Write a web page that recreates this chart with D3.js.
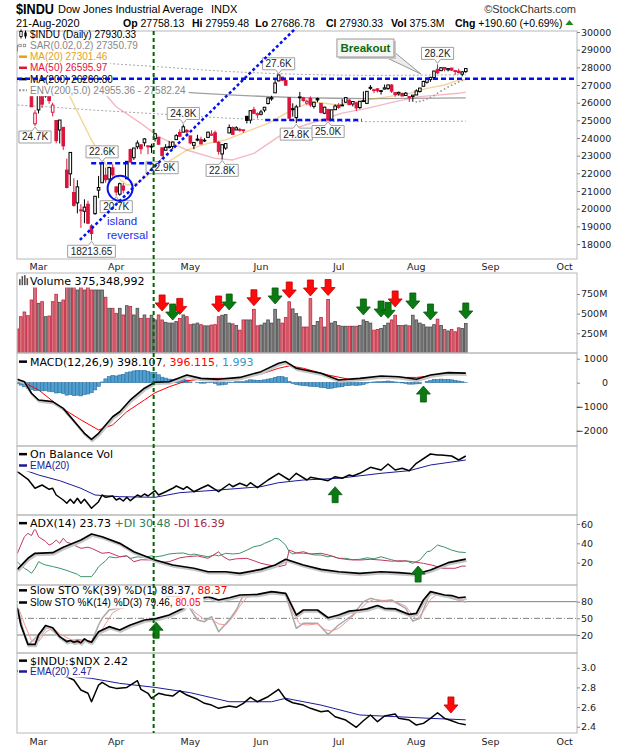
<!DOCTYPE html>
<html>
<head>
<meta charset="utf-8">
<style>
  body { margin: 0; background: #fff; }
  svg { display: block; }
</style>
</head>
<body>
<svg></svg>
<script src="https://d3js.org/d3.v7.min.js"></script>
<script>
// ---------- data: $INDU daily bars, 21-Feb-2020 .. 21-Aug-2020 ----------
const days = ("02-21 02-24 02-25 02-26 02-27 02-28 03-02 03-03 03-04 03-05 03-06 03-09 03-10 03-11 03-12 03-13 " +
  "03-16 03-17 03-18 03-19 03-20 03-23 03-24 03-25 03-26 03-27 03-30 03-31 04-01 04-02 04-03 04-06 04-07 04-08 04-09 " +
  "04-13 04-14 04-15 04-16 04-17 04-20 04-21 04-22 04-23 04-24 04-27 04-28 04-29 04-30 05-01 05-04 05-05 05-06 05-07 05-08 " +
  "05-11 05-12 05-13 05-14 05-15 05-18 05-19 05-20 05-21 05-22 05-26 05-27 05-28 05-29 06-01 06-02 06-03 06-04 06-05 " +
  "06-08 06-09 06-10 06-11 06-12 06-15 06-16 06-17 06-18 06-19 06-22 06-23 06-24 06-25 06-26 06-29 06-30 07-01 07-02 " +
  "07-06 07-07 07-08 07-09 07-10 07-13 07-14 07-15 07-16 07-17 07-20 07-21 07-22 07-23 07-24 07-27 07-28 07-29 07-30 07-31 " +
  "08-03 08-04 08-05 08-06 08-07 08-10 08-11 08-12 08-13 08-14 08-17 08-18 08-19 08-20 08-21").split(" ");
const prevClose = 29219; // 20-Feb close

const open = [29217,28403,28023,27197,26526,24806,25591,26762,26383,26671,25458,24992,24454,24604,22184,21973,20917,20328,19931,19854,
  20253,19028,19722,21050,21468,21898,21678,22314,21228,20819,21285,21693,23344,22885,23504,23619,23732,23558,23526,23967,
  24036,23443,23309,23463,23522,23909,24310,24332,24433,24120,23585,23938,23913,23846,24034,24153,24297,23750,23098,23430,
  24289,24593,24456,24485,24438,25229,25012,25603,25314,25343,25580,25951,26218,26557,27233,27447,27251,26283,25659,25156,
  26326,26270,25976,26245,25789,26235,25960,25401,25622,25063,25602,25856,25866,26026,26143,25924,25994,25726,26108,25960,
  26811,26716,26786,26662,26767,26807,26997,26570,26496,26519,26407,26345,26353,26434,26634,26928,27156,27308,27426,27886,
  27812,27993,27861,27960,27813,27784,27615,27758];
const high = [29240,28403,28068,27390,26555,25575,26706,27084,27102,26671,25995,24992,25020,24604,22837,23186,21720,21613,20255,20531,
  20453,19121,20704,21854,22595,22327,22378,22519,21288,21477,21447,22701,23400,23444,23865,23619,23996,23558,23677,24264,
  24036,23443,23651,23838,23796,24224,24487,24765,24514,24120,23767,24181,24073,23994,24353,24436,24418,23826,23625,23710,
  24771,24657,24667,24576,24480,25233,25557,25766,25448,25598,25757,26305,26392,27338,27580,27447,27355,26283,25966,25878,
  26611,26326,26171,26352,26044,26287,25960,25772,25622,25599,25905,25978,26205,26302,26204,26094,26005,26086,26637,26657,
  26996,26785,26809,26720,27025,27005,27055,26570,26625,26574,26609,26350,26437,26757,26827,27239,27397,27462,27800,28168,
  28022,28016,27950,27960,27847,27920,27798,27959];
const low = [28892,27922,27057,26918,25763,24681,25391,25706,26286,25943,25226,23706,23690,23328,21154,21285,20116,19735,18917,19177,
  19122,18214,19650,20599,21468,21469,21522,21813,20735,20736,20863,21693,22595,22761,23371,23090,23535,23075,23155,23798,
  23617,22941,23309,23413,23361,23909,24058,24332,24242,23645,23361,23815,23651,23770,24026,24124,23762,23062,22790,23327,
  24289,24197,24456,24360,24289,24825,24823,25353,25114,25278,25461,25901,26108,26557,27210,27216,26983,25082,25208,24843,
  25752,26062,25856,25764,25672,26029,25395,25350,24990,25010,25602,25652,25807,25996,25885,25787,25524,25637,26054,25920,
  26725,26539,26576,26458,26760,26725,26555,26338,26398,26361,26394,26042,26050,26434,26571,26928,27080,27180,27354,27634,
  27812,27776,27771,27788,27572,27667,27495,27687];
const close = [28992,27961,27081,26957,25766,25409,26703,25917,27091,26121,25864,23851,25018,23553,21200,23185,20189,21237,19899,20087,
  19174,18592,20704,21200,22552,21637,22327,21917,20943,21413,21053,22680,22654,23434,23719,23390,23950,23505,23538,24242,
  23650,23019,23475,23515,23775,24134,24101,24634,24346,23724,23750,23883,23664,23876,24331,24221,23765,23248,23625,23685,
  24597,24207,24576,24474,24465,24995,25548,25400,25383,25475,25742,26270,26282,27111,27572,27272,26990,25128,25606,25763,
  26290,26120,26080,25871,26025,26156,25446,25745,25016,25595,25813,25735,25827,26287,25890,26067,25706,26075,26086,26643,
  26870,26735,26672,26681,26840,27006,26653,26470,26584,26379,26540,26314,26428,26664,26828,27202,27387,27433,27791,27687,
  27977,27897,27931,27845,27779,27693,27740,27930];
// volume, millions of shares
const volume = [305,461,521,474,673,860,631,652,461,470,652,746,644,673,860,860,860,800,860,800,
  860,800,800,800,800,708,568,568,504,568,483,601,590,483,568,440,483,440,480,420,
  483,420,390,380,380,400,440,483,461,360,368,380,360,345,345,355,360,461,480,490,
  380,370,350,290,420,420,420,555,345,355,380,420,380,555,430,380,450,650,560,500,
  460,330,330,690,350,400,450,330,680,380,400,350,340,340,340,340,340,350,420,400,
  380,290,300,310,350,380,420,480,350,350,355,345,480,420,380,360,330,330,360,430,
  350,300,280,300,270,320,310,375];

// price overlays: [day index, value]
const ma20 = [[0,29250],[5,28300],[10,27400],[14,26700],[21,23890],[26,22190],[31,21340],[34,21440],[39,22190],[48,23320],
  [54,23700],[59,23890],[65,24360],[71,24830],[76,25400],[83,26060],[91,25870],[99,26150],[105,26340],[111,26530],
  [116,26810],[121,27000],[125,27280],[127,27301]];
const ma50 = [[0,28950],[10,28500],[17,27700],[24,26700],[28,25770],[35,24830],[40,24080],[48,23320],[56,22850],[61,22760],
  [67,23130],[74,24080],[80,24640],[86,25020],[92,25410],[99,25680],[107,26060],[114,26340],[125,26530],[127,26596]];
const ma200 = [[0,27230],[10,27100],[20,26950],[30,26820],[40,26700],[50,26560],[60,26440],[70,26350],[80,26290],[90,26250],
  [100,26235],[110,26240],[120,26255],[127,26267]];
const envUpper = [[0,28592],[10,28455],[20,28298],[30,28161],[40,28035],[50,27888],[60,27762],[70,27668],[80,27605],[90,27563],
  [100,27547],[110,27552],[120,27568],[127,27582]];
const envLower = [[0,25869],[10,25745],[20,25603],[30,25479],[40,25365],[50,25232],[60,25118],[70,25033],[80,24976],[90,24938],
  [100,24923],[110,24928],[120,24942],[127,24955]];
const sar = [[113,26042],[114,26080],[115,26130],[116,26210],[117,26300],[118,26400],[119,26540],[120,26660],[121,26780],
  [122,26890],[123,26990],[124,27080],[125,27170],[126,27260],[127,27351]];

// MACD(12,26,9)
const macd = [[0,140],[2,40],[4,-440],[6,-720],[10,-790],[13,-1070],[17,-1760],[19,-2110],[21,-2360],[23,-2110],[27,-1420],
  [29,-1210],[32,-720],[36,-230],[39,20],[43,40],[48,320],[52,180],[57,140],[63,220],[69,460],[74,810],[76,880],[79,600],
  [86,390],[91,110],[97,180],[103,280],[108,250],[113,140],[117,320],[122,420],[127,398]];
const macdSignal = [[0,140],[6,-300],[12,-1000],[18,-1550],[23,-1970],[27,-1760],[31,-1210],[36,-720],[39,-420],[43,-170],
  [48,80],[54,180],[63,180],[69,360],[74,600],[77,700],[81,600],[88,320],[94,140],[103,220],[113,220],[120,320],[127,396]];
const macdHist = [-40,-100,-170,-230,-290,-330,-320,-340,-330,-360,-380,-430,-420,-450,-520,-500,-540,-520,-550,-500,
  -470,-420,-300,-150,30,160,250,300,280,320,350,420,450,490,510,500,510,470,430,420,
  330,230,190,150,140,150,130,150,110,30,0,10,-20,-20,10,10,-30,-100,-90,-70,
  20,20,40,40,40,80,120,110,100,100,120,150,170,220,260,250,210,50,-30,-80,
  -100,-120,-130,-150,-160,-170,-200,-210,-250,-230,-200,-180,-170,-120,-120,-100,-120,-100,-80,-20,
  20,30,40,40,60,70,50,30,20,-10,-30,-60,-60,-50,-40,0,50,90,130,130,
  150,140,140,120,100,70,40,2];

// On Balance Volume (billions) and its EMA(20)
const obv = [[0,4.33],[3,3.57],[5,2.67],[7,3.0],[9,2.57],[10,2.67],[11,2.0],[13,1.5],[14,1.17],[15,1.57],[16,1.17],[17,1.67],
  [18,1.17],[19,1.57],[21,0.67],[23,1.33],[24,2.0],[25,1.77],[27,1.9],[28,1.5],[29,1.67],[30,1.4],[31,1.77],[32,1.43],
  [34,2.0],[35,1.83],[36,2.1],[37,1.9],[39,2.43],[40,2.0],[42,2.33],[44,2.67],[45,2.9],[47,2.57],[48,2.83],[50,2.33],
  [52,2.67],[54,3.0],[57,2.33],[60,3.1],[61,2.83],[63,3.17],[65,2.9],[66,3.23],[68,2.73],[71,3.5],[74,4.17],[77,3.5],
  [79,4.17],[82,3.5],[83,3.77],[86,3.57],[88,3.43],[90,3.83],[92,3.67],[94,4.0],[95,3.9],[97,4.17],[100,4.77],[103,4.5],
  [105,5.1],[107,4.5],[109,4.67],[111,4.43],[113,5.17],[117,6.1],[119,6.0],[120,6.0],[123,5.9],[125,5.5],[127,5.9]];
const obvEma = [[2,4.5],[6,4.0],[12,3.43],[18,2.67],[22,2.0],[29,1.83],[39,1.77],[46,2.23],[57,2.5],[69,2.83],[74,3.23],
  [81,3.5],[91,3.67],[103,4.17],[111,4.43],[117,5.0],[127,5.5]];

// ADX(14)
const adx = [[0,13],[3,24.5],[5,29.7],[10,30.3],[13,35.9],[18,43.4],[21,49.6],[24,46.8],[29,40],[33,31.3],[39,22.7],[44,17.6],
  [50,14.2],[54,10.6],[59,10.6],[63,9],[69,13.1],[73,17.6],[76,23.5],[81,17.6],[86,13.1],[91,10.6],[97,9],[103,10.6],
  [108,9.6],[113,8.3],[117,12.4],[122,20],[127,23.73]];
const plusDI = [[0,21],[1,17],[2,14.2],[3,12],[4,9],[5,14],[6,21],[7,19],[8,17.6],[10,16],[12,14.2],[14,12],[15,10.6],[17,8],
  [18,5.5],[20,5.5],[21,5.5],[22,10],[23,15.8],[25,22],[26,26.1],[28,25],[29,26.1],[31,27],[32,24.5],[34,26],[36,25.5],
  [38,27],[39,26],[41,27],[43,29],[45,29.7],[47,30],[49,28],[50,28.9],[52,27.5],[54,26.1],[56,28],[57,27],[59,29.7],
  [61,29],[63,29.7],[65,33],[67,36.5],[69,38],[70,40],[72,43],[73,45.2],[74,44.5],[75,41.7],[76,38],[77,31.3],[78,29],
  [79,30],[81,29.7],[83,29],[84,28],[86,27.9],[88,26],[89,27],[91,24.5],[93,24.5],[95,23],[97,23.5],[99,25],[101,24],
  [103,26.1],[105,24],[106,23],[108,21],[110,22],[112,19.3],[114,22.7],[116,31.3],[117,32],[119,38.2],[121,36],[123,33],
  [125,31],[127,30.48]];
const minusDI = [[0,29.7],[2,46.8],[3,50.3],[4,48],[5,55.5],[6,46.8],[8,42],[9,38.2],[10,40],[11,43.4],[12,40],[13,45.2],
  [14,41],[15,40],[18,34.8],[20,36],[21,34.8],[24,29.7],[26,30.5],[29,26.1],[31,27],[33,21],[35,23],[39,22.7],[41,20.5],
  [43,21],[46,25],[48,26.1],[51,27],[54,24.5],[57,31.3],[58,27],[60,22.7],[62,24],[65,24.5],[67,22],[69,19.3],[72,17],
  [74,15.8],[76,17.6],[77,33],[79,30],[81,31.3],[83,29],[86,29.7],[88,28],[91,24.5],[94,23],[97,22.7],[100,23.5],
  [103,22.7],[106,21.5],[108,22],[111,21.5],[112,21],[115,19.3],[118,17],[120,14.2],[124,14.2],[126,16.5],[127,16.39]];

// Slow stochastics
const stoK39 = [[0,69],[1,38],[3,3],[5,3],[6,20],[8,37],[10,33],[12,17],[14,8],[15,10],[16,7],[17,9],[18,6],[19,13],[20,9],
  [21,7],[23,26],[26,35],[29,29],[32,38],[36,47],[39,49],[43,56],[47,68],[49,83],[52,86],[54,89],[57,83],[60,87],[63,92],
  [68,93],[72,98],[76,95],[79,56],[81,65],[85,65],[88,51],[91,56],[94,63],[97,65],[99,67],[102,73],[104,68],[107,67],
  [111,57],[113,59],[115,83],[117,98],[121,92],[123,91],[125,87],[127,88.37]];
const stoK14 = [[0,69],[2,20],[3,2],[6,20],[8,37],[10,28],[12,15],[15,8],[17,12],[19,10],[21,7],[23,38],[24,50],[26,65],
  [29,69],[31,71],[34,80],[37,88],[40,85],[43,90],[46,92],[48,77],[51,47],[53,44],[55,53],[57,26],[60,47],[62,65],[64,92],
  [69,93],[73,98],[76,92],[79,32],[81,41],[85,41],[88,21],[91,38],[95,56],[98,80],[100,86],[103,81],[106,83],[110,68],
  [112,45],[114,50],[117,97],[120,92],[123,86],[127,79.46]];
const stoD3 = [[0,75],[2,40],[4,10],[6,8],[8,25],[10,33],[12,22],[15,12],[17,10],[19,10],[21,9],[23,20],[25,40],[27,60],
  [29,67],[31,70],[34,76],[37,85],[40,86],[43,88],[46,90],[48,83],[50,62],[53,48],[55,48],[57,40],[59,38],[61,52],[63,72],
  [65,88],[69,92],[73,96],[76,94],[78,60],[80,40],[82,38],[85,40],[87,30],[89,27],[91,32],[94,48],[97,66],[99,78],[101,84],
  [104,82],[107,80],[110,72],[112,55],[113,48],[115,62],[117,84],[119,94],[121,91],[123,88],[125,84],[127,80.05]];

// $INDU:$NDX ratio and its EMA(20)
const ratio = [[0,2.97],[4,2.95],[7,2.94],[10,2.93],[14,2.908],[16,2.875],[18,2.773],[20,2.74],[21,2.654],[23,2.824],
  [24,2.851],[26,2.807],[28,2.79],[31,2.8],[33,2.847],[34,2.868],[35,2.78],[37,2.74],[38,2.689],[40,2.74],[42,2.722],
  [44,2.712],[46,2.766],[48,2.722],[51,2.679],[53,2.638],[55,2.62],[57,2.587],[60,2.61],[62,2.597],[64,2.638],[66,2.699],
  [68,2.654],[71,2.705],[74,2.78],[76,2.679],[78,2.644],[81,2.62],[83,2.587],[86,2.552],[88,2.562],[90,2.501],[93,2.468],
  [96,2.394],[98,2.461],[100,2.519],[102,2.451],[104,2.509],[107,2.529],[108,2.485],[111,2.468],[113,2.417],[115,2.434],
  [117,2.485],[119,2.542],[121,2.485],[123,2.461],[125,2.434],[127,2.42]];
const ratioEma = [[0,2.96],[10,2.93],[21,2.892],[29,2.841],[39,2.8],[49,2.746],[60,2.654],[72,2.654],[76,2.689],[86,2.62],
  [97,2.519],[108,2.501],[117,2.485],[127,2.47]];

// axis months (trading-day index of first session)
const monthDay = [6, 28, 49, 69, 91, 113, 134, 155];
const monthName = ["Mar", "Apr", "May", "Jun", "Jul", "Aug", "Sep", "Oct"];

// annotations
const tagDay = [5, 21, 24, 28, 41, 47, 58, 74, 79, 88, 119];
const tagText = ["24.7K", "18213.65", "22.6K", "20.7K", "22.9K", "24.8K", "22.8K", "27.6K", "24.8K", "25.0K", "28.2K"];
const tagSide = ["low", "low", "high", "low", "low", "high", "low", "high", "low", "low", "high"];
const blueLevels = [[-0.1, 158.5, 27360], [20.9, 38.4, 22570], [70.2, 97.6, 25020]];
const trendLine = [[17.7, 18230], [78.9, 30226]];
const islandCircle = [29.1, 21155];
const islandText = [25.4, 19078];
const breakoutTip = [114.3, 27623];
const signalDay = 38.6;
const volRedArrows = [[41, 534], [46, 490], [57, 521], [67, 600], [77, 699], [83, 724], [88, 730], [107, 585]];
const volGreenArrows = [[44, 419], [60, 546], [73, 623], [98, 483], [103, 457], [105, 440], [112, 559], [117, 419], [127, 432]];
const macdArrow = [115, -140], obvArrow = [90, 2.83], adxArrow = [113.5, 16.5], stoArrow = [39.3, 43], ratioArrow = [122.8, 2.54];

// ---------- layout ----------
const W = 620, H = 750, L = 17, R = 577;
const F1 = '"DejaVu Sans", Verdana, sans-serif';
const F2 = '"Liberation Sans", Arial, sans-serif';
const RED = "#dc143c";

const svg = d3.select("svg").attr("width", W).attr("height", H);
svg.append("rect").attr("width", W).attr("height", H).attr("fill", "#fff");

const x = d3.scaleLinear().domain([-0.1, 158.5]).range([L, R]);

function makePanel(id, top, bottom, domain) {
  svg.append("clipPath").attr("id", "c-" + id).append("rect")
    .attr("x", L).attr("y", top).attr("width", R - L).attr("height", bottom - top);
  return {
    top, bottom,
    y: d3.scaleLinear().domain(domain).range([bottom, top]),
    g: svg.append("g").attr("clip-path", `url(#c-${id})`)
  };
}
const P = makePanel("p", 31, 259, [17153, 30057]);
const V = makePanel("v", 273, 353, [0, 1016]);
const M = makePanel("m", 353, 446, [-2638, 1237]);
const O = makePanel("o", 446, 515, [0, 6.9]);
const A = makePanel("a", 515, 585, [-3.1, 69.3]);
const S = makePanel("s", 585, 653, [-12.4, 110]);
const Q = makePanel("q", 653, 733, [2.336, 3.15]);

function drawLine(p, data, color, width, opt) {
  opt = opt || {};
  const line = d3.line().x(d => x(d[0])).y(d => p.y(d[1]));
  if (opt.shadow) {
    p.g.append("path").datum(data).attr("d", line).attr("fill", "none")
      .attr("stroke", "#c6c6c6").attr("stroke-width", width + 0.8).attr("transform", "translate(0.8,1.6)");
  }
  p.g.append("path").datum(data).attr("d", line).attr("fill", "none")
    .attr("stroke", color).attr("stroke-width", width)
    .attr("stroke-opacity", opt.opacity || 1)
    .attr("stroke-dasharray", opt.dash || null)
    .attr("stroke-linejoin", "round");
}

const isDown = i => close[i] < (i ? close[i - 1] : prevClose);
const bars = d3.range(close.length);

// ---------- price panel ----------
drawLine(P, envUpper, "#a8a8a8", 1, {dash: "2,2"});
drawLine(P, envLower, "#a8a8a8", 1, {dash: "2,2"});
drawLine(P, ma200, "#a0a0a0", 1.3);
drawLine(P, ma50, RED, 1.4, {opacity: 0.3});
drawLine(P, ma20, "#e3a21a", 1.4, {opacity: 0.45});
P.g.selectAll("circle.sar").data(sar).join("circle").attr("class", "sar")
  .attr("cx", d => x(d[0])).attr("cy", d => P.y(d[1])).attr("r", 0.9).attr("fill", "#999");

const candleColor = i => isDown(i) ? RED : "#000";
P.g.selectAll("line.wick").data(bars).join("line").attr("class", "wick")
  .attr("x1", i => x(i)).attr("x2", i => x(i))
  .attr("y1", i => P.y(high[i])).attr("y2", i => P.y(low[i]))
  .attr("stroke", candleColor).attr("stroke-width", 1);
P.g.selectAll("rect.body").data(bars).join("rect").attr("class", "body")
  .attr("x", i => x(i) - 1.3).attr("width", 2.6)
  .attr("y", i => P.y(Math.max(open[i], close[i])))
  .attr("height", i => Math.max(0.8, Math.abs(P.y(open[i]) - P.y(close[i]))))
  .attr("fill", i => close[i] > open[i] ? "#fff" : candleColor(i))
  .attr("stroke", candleColor).attr("stroke-width", 1);

// ---------- volume ----------
V.g.selectAll("rect").data(bars).join("rect")
  .attr("x", i => x(i) - 1.35).attr("width", 2.7)
  .attr("y", i => V.y(volume[i])).attr("height", i => V.y(0) - V.y(volume[i]))
  .attr("fill", i => isDown(i) ? "#d9727e" : "#8a8a8a")
  .attr("stroke", i => isDown(i) ? "#c2233c" : "#4a4a4a").attr("stroke-width", 0.8);

// ---------- MACD ----------
M.g.selectAll("rect").data(bars).join("rect")
  .attr("x", i => x(i) - 1.75).attr("width", 3.5)
  .attr("y", i => M.y(Math.max(0, macdHist[i])))
  .attr("height", i => Math.abs(M.y(0) - M.y(macdHist[i])))
  .attr("fill", "#4f9fd0").attr("stroke", "#2f6f9f").attr("stroke-width", 0.6);
drawLine(M, macdSignal, "#ff0000", 1);
drawLine(M, macd, "#000", 1.6, {shadow: true});

// ---------- OBV ----------
drawLine(O, obvEma, "#1a1a9a", 1);
drawLine(O, obv, "#000", 1.5);

// ---------- ADX ----------
drawLine(A, plusDI, "#3a9468", 1);
drawLine(A, minusDI, "#c4365e", 1);
drawLine(A, adx, "#000", 1.7, {shadow: true});

// ---------- STO ----------
[80, 20].forEach(v => S.g.append("line").attr("x1", L).attr("x2", R).attr("y1", S.y(v)).attr("y2", S.y(v))
  .attr("stroke", "#808080").attr("stroke-width", 1));
S.g.append("line").attr("x1", L).attr("x2", R).attr("y1", S.y(50)).attr("y2", S.y(50))
  .attr("stroke", "#808080").attr("stroke-width", 1).attr("stroke-dasharray", "6,2,1,2");
drawLine(S, stoK14, "#a8a8a8", 1.5);
drawLine(S, stoD3, "#f29a9a", 1);
drawLine(S, stoK39, "#000", 1.7, {shadow: true});

// ---------- ratio ----------
drawLine(Q, ratioEma, "#1a1a9a", 1);
drawLine(Q, ratio, "#000", 1.5);

// ---------- frames and axes ----------
[P, V, M, O, A, S, Q].forEach(p => svg.append("rect")
  .attr("x", L).attr("y", p.top).attr("width", R - L).attr("height", p.bottom - p.top)
  .attr("fill", "none").attr("stroke", "#b8b8b8").attr("stroke-width", 1));

function rightAxis(p, ticks, fmt, alignEnd) {
  const ax = svg.append("g").attr("transform", `translate(${R},0)`)
    .call(d3.axisRight(p.y).tickValues(ticks).tickFormat(fmt).tickSize(3).tickPadding(1));
  ax.select(".domain").remove();
  ax.selectAll("line").attr("stroke", "#888");
  ax.selectAll("text").attr("font-family", F1).attr("font-size", 9.5).attr("fill", "#222");
  if (alignEnd) ax.selectAll("text").attr("text-anchor", "end").attr("x", 31);
}
rightAxis(P, d3.range(18000, 30001, 1000), d3.format("d"));
rightAxis(V, [250, 500, 750], d => d + "M");
rightAxis(M, [-2000, -1000, 0, 1000], d3.format("d"), true);
rightAxis(A, [20, 40, 60], d3.format("d"));
rightAxis(S, [20, 50, 80], d3.format("d"));
rightAxis(Q, [2.4, 2.6, 2.8, 3.0], d3.format(".1f"));

[270, 745].forEach(yy => {
  svg.append("g").selectAll("text").data(monthDay).join("text")
    .attr("x", d => x(d)).attr("y", yy).attr("text-anchor", "middle")
    .attr("font-family", F1).attr("font-size", 9.5).attr("fill", "#222")
    .text((d, k) => monthName[k]);
});

// ---------- legends ----------
const legendLayer = svg.append("g");
function legendRow(yb, font, size, parts, swatch, top) {
  const g = legendLayer.append("g");
  const bg = g.append("rect").attr("fill", "#fff");
  const t = g.append("text").attr("x", 30).attr("y", yb).attr("font-family", font).attr("font-size", size);
  parts.forEach(p => t.append("tspan").attr("fill", p[1]).text(p[0]));
  const w = t.node().getComputedTextLength();
  const y0 = Math.max(yb - size + 1, top + 1);
  bg.attr("x", L + 1).attr("y", y0).attr("width", w + 15).attr("height", yb + 2.5 - y0);
  if (swatch) swatch(g, yb - size * 0.35);
}
const sw = (color, dash) => (g, y) => g.append("line").attr("x1", 19).attr("x2", 27).attr("y1", y).attr("y2", y)
  .attr("stroke", color).attr("stroke-width", dash ? 2 : 2.5).attr("stroke-dasharray", dash || null);
const candleIcon = (g, y) => {
  g.append("line").attr("x1", 21).attr("x2", 21).attr("y1", y - 5).attr("y2", y + 4).attr("stroke", "#000");
  g.append("rect").attr("x", 19.8).attr("y", y - 3).attr("width", 2.4).attr("height", 5).attr("fill", "#fff").attr("stroke", "#000").attr("stroke-width", 0.8);
  g.append("line").attr("x1", 25.5).attr("x2", 25.5).attr("y1", y - 4).attr("y2", y + 4).attr("stroke", "#000");
  g.append("rect").attr("x", 24.3).attr("y", y - 2).attr("width", 2.4).attr("height", 4).attr("fill", "#000");
};
const sarIcon = (g, y) => [20, 24.5].forEach(cx => g.append("rect").attr("x", cx - 1.2).attr("y", y - 1.2)
  .attr("width", 2.4).attr("height", 2.4).attr("fill", "#fff").attr("stroke", "#888").attr("stroke-width", 0.8));
const volIcon = (g, y) => [[19, 6], [21.5, 9], [24, 10], [26.5, 7]].forEach(b => g.append("rect")
  .attr("x", b[0]).attr("y", y + 4 - b[1]).attr("width", 1.6).attr("height", b[1]).attr("fill", "#555"));

legendRow(38, F2, 10, [["$INDU (Daily) 27930.33", "#000"]], candleIcon, P.top);
legendRow(49, F2, 10, [["SAR(0.02,0.2) 27350.79", "#888"]], sarIcon, P.top);
legendRow(60.2, F2, 10, [["MA(20) 27301.46", "#e3a21a"]], sw("#e3a21a"), P.top);
legendRow(71.3, F2, 10, [["MA(50) 26595.97", RED]], sw(RED), P.top);
legendRow(82.6, F2, 10, [["MA(200) 26266.80", "#000"]], sw("#000"), P.top);
legendRow(93.7, F2, 10, [["ENV(200,5.0) 24955.36 - 27582.24", "#888"]], sw("#999", "2,1.5"), P.top);

legendRow(285, F1, 11, [["Volume 375,348,992", "#000"]], volIcon, V.top);
legendRow(365.5, F1, 11, [["MACD(12,26,9) 398.107", "#000"], [", 396.115", "#ff0000"], [", 1.993", "#3a96c8"]], sw("#000"), M.top);
legendRow(458, F1, 11, [["On Balance Vol", "#000"]], sw("#000"), O.top);
legendRow(469, F2, 10, [["EMA(20)", "#1a1a9a"]], sw("#1a1a9a"), O.top);
legendRow(527, F1, 11, [["ADX(14) 23.73 ", "#000"], ["+DI 30.48 ", "#2e7d5b"], ["-DI 16.39", "#a8264e"]], sw("#000"), A.top);
legendRow(594, F1, 10.5, [["Slow STO %K(39) %D(1) 88.37, ", "#000"], ["88.37", "#ff0000"]], sw("#000"), S.top);
legendRow(606, F2, 10, [["Slow STO %K(14) %D(3) 79.46, ", "#000"], ["80.05", "#ff0000"]], sw("#000"), S.top);
legendRow(664.5, F1, 11, [["$INDU:$NDX 2.42", "#000"]], sw("#000"), Q.top);
legendRow(675, F2, 10, [["EMA(20) 2.47", "#1a1a9a"]], sw("#1a1a9a"), Q.top);

// ---------- annotations ----------
const annot = svg.append("g");

// price tags
function priceTag(i, text, side) {
  const cx = x(i), hi = side === "high";
  const py = P.y(hi ? high[i] : low[i]);
  const g = annot.append("g");
  const path = g.append("path");
  const t = g.append("text").attr("font-family", F2).attr("font-size", 10).attr("text-anchor", "middle")
    .attr("fill", "#222").text(text);
  const w = t.node().getComputedTextLength() + 6, h = 12, gap = 5;
  const top = hi ? py - gap - h : py + gap, bot = top + h;
  t.attr("x", cx).attr("y", top + 9.5);
  const a = cx - w / 2, b = cx + w / 2;
  const d = hi
    ? `M${a},${top}H${b}V${bot}H${cx + 3}L${cx},${py - 1}L${cx - 3},${bot}H${a}Z`
    : `M${a},${top}H${cx - 3}L${cx},${py + 1}L${cx + 3},${top}H${b}V${bot}H${a}Z`;
  path.attr("d", d).attr("fill", "#fff").attr("stroke", "#a0a0a0").attr("stroke-width", 1);
}
tagDay.forEach((d, k) => priceTag(d, tagText[k], tagSide[k]));

// blue support / resistance and trend line
blueLevels.forEach(l => annot.append("line")
  .attr("x1", x(l[0])).attr("x2", x(l[1])).attr("y1", P.y(l[2])).attr("y2", P.y(l[2]))
  .attr("stroke", "#0010f0").attr("stroke-width", 2.5).attr("stroke-dasharray", "5,3"));
annot.append("line")
  .attr("x1", x(trendLine[0][0])).attr("y1", P.y(trendLine[0][1]))
  .attr("x2", x(trendLine[1][0])).attr("y2", P.y(trendLine[1][1]))
  .attr("stroke", "#0010f0").attr("stroke-width", 2.5).attr("stroke-dasharray", "3,2.5");
annot.append("circle").attr("cx", x(islandCircle[0])).attr("cy", P.y(islandCircle[1])).attr("r", 12.5)
  .attr("fill", "none").attr("stroke", "#0010f0").attr("stroke-width", 2);
const it = annot.append("text").attr("font-family", F2).attr("font-size", 11.5).attr("fill", "#1a2cf0")
  .attr("x", x(islandText[0])).attr("y", P.y(islandText[1]));
it.append("tspan").attr("x", x(islandText[0])).text("island");
it.append("tspan").attr("x", x(islandText[0])).attr("dy", 14).text("reversal");

// breakout callout
{
  const tx = x(breakoutTip[0]), ty = P.y(breakoutTip[1]);
  const x0 = tx - 84, x1 = tx - 27, y0 = ty - 35, y1 = ty - 17;
  annot.append("polygon").attr("points", `${tx - 38},${y1 - 1} ${tx - 28},${y1 - 6} ${tx},${ty}`)
    .attr("fill", "#ececec").attr("stroke", "#999").attr("stroke-width", 1);
  annot.append("rect").attr("x", x0 + 2).attr("y", y0 + 2).attr("width", x1 - x0).attr("height", y1 - y0).attr("fill", "#c8c8c8");
  annot.append("rect").attr("x", x0).attr("y", y0).attr("width", x1 - x0).attr("height", y1 - y0)
    .attr("fill", "#f6f6f6").attr("stroke", "#999").attr("stroke-width", 1);
  annot.append("text").attr("x", (x0 + x1) / 2).attr("y", y1 - 5).attr("text-anchor", "middle")
    .attr("font-family", F2).attr("font-size", 11.5).attr("font-weight", "bold").attr("fill", "#0d6b0d").text("Breakout");
}

// arrows: dir 1 = pointing down (tip at bottom), -1 = pointing up
function arrow(cx, tipY, dir, fill, stroke) {
  const pts = [[0, 0], [-7, -8], [-3, -8], [-3, -16], [3, -16], [3, -8], [7, -8]];
  annot.append("polygon")
    .attr("points", pts.map(p => (cx + p[0]) + "," + (tipY + p[1] * dir)).join(" "))
    .attr("fill", fill).attr("stroke", stroke).attr("stroke-width", 0.8);
}
const redA = ["#ff0a0a", "#c00000"], greenA = ["#0a7a12", "#055a0a"];
volRedArrows.forEach(a => arrow(x(a[0]), V.y(a[1]), 1, ...redA));
volGreenArrows.forEach(a => arrow(x(a[0]), V.y(a[1]), 1, ...greenA));
arrow(x(macdArrow[0]), M.y(macdArrow[1]), -1, ...greenA);
arrow(x(obvArrow[0]), O.y(obvArrow[1]), -1, ...greenA);
arrow(x(adxArrow[0]), A.y(adxArrow[1]), -1, ...greenA);
arrow(x(stoArrow[0]), S.y(stoArrow[1]), -1, ...greenA);
arrow(x(ratioArrow[0]), Q.y(ratioArrow[1]), 1, ...redA);

// green vertical signal line through all panels
annot.append("line").attr("x1", x(signalDay)).attr("x2", x(signalDay)).attr("y1", P.top).attr("y2", Q.bottom)
  .attr("stroke", "#006400").attr("stroke-width", 2).attr("stroke-dasharray", "4,3");

// ---------- header ----------
const hdr = svg.append("g").attr("font-family", F2).attr("font-size", 11).attr("fill", "#000");
hdr.append("text").attr("x", 16).attr("y", 14).attr("font-size", 15).attr("font-weight", "bold")
  .attr("textLength", 38).attr("lengthAdjust", "spacingAndGlyphs").text("$INDU");
hdr.append("text").attr("x", 58).attr("y", 13).text("Dow Jones Industrial Average");
hdr.append("text").attr("x", 211).attr("y", 13).text("INDX");
hdr.append("text").attr("x", 576).attr("y", 13).attr("text-anchor", "end").attr("fill", "#333").text("\u00a9StockCharts.com");
hdr.append("text").attr("x", 16).attr("y", 26.5).text("21-Aug-2020");
const quote = [["Op", "27758.13", 123], ["Hi", "27959.48", 192], ["Lo", "27686.78", 252],
  ["Cl", "27930.33", 326], ["Vol", "375.3M", 391], ["Chg", "+190.60 (+0.69%)", 455]];
let qEnd = 0;
quote.forEach(q => {
  const qx = Math.max(q[2], qEnd + 6);
  const t = hdr.append("text").attr("x", qx).attr("y", 26.5).attr("font-size", 10.5);
  t.append("tspan").attr("font-weight", "bold").text(q[0]);
  t.append("tspan").text(" " + q[1]);
  qEnd = qx + t.node().getComputedTextLength();
});
hdr.append("polygon").attr("points", `${qEnd + 3},25 ${qEnd + 7},20 ${qEnd + 11},25`).attr("fill", "#1a8a1a");
</script>
</body>
</html>
